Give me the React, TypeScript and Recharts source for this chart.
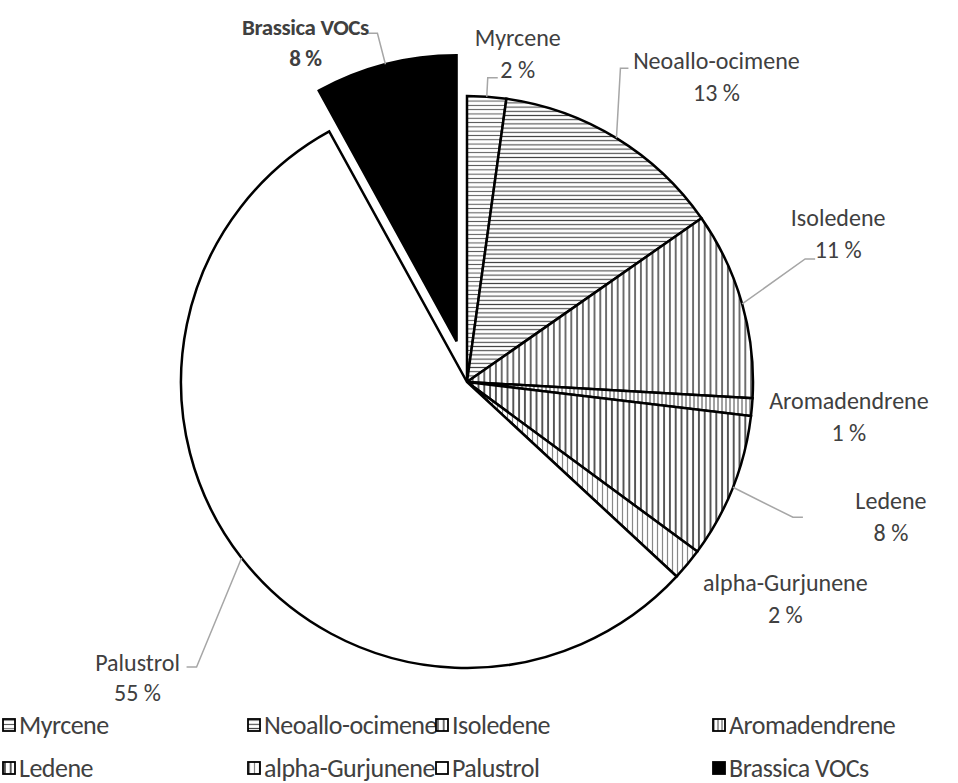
import React from "react"
import { PieChart, Pie, Cell, Sector, Legend } from "recharts"

const compounds = [
  "Myrcene",
  "Neoallo-ocimene",
  "Isoledene",
  "Aromadendrene",
  "Ledene",
  "alpha-Gurjunene",
  "Palustrol",
  "Brassica VOCs",
]
const shares = [2.2, 13.1, 10.6, 1.0, 8.2, 1.8, 55.1, 8.0]
const explodedName = "Brassica VOCs"

const data = compounds.map((name, i) => ({ name, value: shares[i] }))

const fills = [
  "url(#pMyrcene)",
  "url(#pNeo)",
  "url(#pIso)",
  "url(#pArom)",
  "url(#pLedene)",
  "url(#pGurj)",
  "#ffffff",
  "#000000",
]

// label placement, relative to the point on the arc at the slice's mid angle
const labelLayout: { dx: number; dy: number; gap?: number; leader?: number[][] }[] = [
  { dx: 31, dy: -59, leader: [[1, -19], [11, -19]] },
  { dx: 100, dy: -78, leader: [[4, -70], [12, -70]] },
  { dx: 96, dy: -86, leader: [[63, -45], [73, -45]] },
  { dx: 97, dy: -7 },
  { dx: 158, dy: 13, leader: [[60, 30], [70, 30]] },
  { dx: 98, dy: 18 },
  { dx: -104, dy: 104, gap: 30, leader: [[-45, 109], [-55, 109]] },
  { dx: -80, dy: -37, gap: 31, leader: [[-8, -31], [-19, -31]] },
]

const RAD = Math.PI / 180
const EXPLODE = 42
const FONT = "Carlito, Calibri, Lato, sans-serif"
const TEXT = "#404040"

const renderSlice = (props: any) => {
  const name = props.name ?? props.payload?.name
  let { cx, cy } = props
  if (name === explodedName) {
    cx += EXPLODE * Math.cos(-props.midAngle * RAD)
    cy += EXPLODE * Math.sin(-props.midAngle * RAD)
  }
  return <Sector {...props} cx={cx} cy={cy} />
}

const renderLabel = (p: any) => {
  const { cx, cy, midAngle, outerRadius, percent, index, name } = p
  const lay = labelLayout[index]
  const r = outerRadius + (name === explodedName ? EXPLODE : 0)
  const ax = cx + r * Math.cos(-midAngle * RAD)
  const ay = cy + r * Math.sin(-midAngle * RAD)
  const bold = name === explodedName
  const textProps = {
    textAnchor: "middle" as const,
    dominantBaseline: "central" as const,
    fill: TEXT,
    fontSize: bold ? 23 : 24,
    fontFamily: FONT,
    fontWeight: bold ? 700 : 400,
    letterSpacing: bold ? -0.4 : 0,
  }
  return (
    <g>
      {lay.leader && (
        <polyline
          points={[[0, 0], ...lay.leader].map(([x, y]) => `${ax + x},${ay + y}`).join(" ")}
          fill="none"
          stroke="#a6a6a6"
          strokeWidth={1.5}
        />
      )}
      <text x={ax + lay.dx} y={ay + lay.dy} {...textProps}>
        {name}
      </text>
      <text x={ax + lay.dx} y={ay + lay.dy + (lay.gap ?? 32)} {...textProps}>
        {Math.round(percent * 100)} %
      </text>
    </g>
  )
}

const legendCols = [245, 188, 277, 246]

const LegendBox = () => (
  <div
    style={{
      display: "grid",
      gridTemplateColumns: legendCols.map((w) => `${w}px`).join(" "),
      gridAutoRows: "43px",
      paddingLeft: 2,
      fontFamily: FONT,
      fontSize: 26,
      letterSpacing: -0.5,
      lineHeight: 1,
      color: TEXT,
    }}
  >
    {compounds.map((name, i) => (
      <div key={name} style={{ display: "flex", alignItems: "center", whiteSpace: "nowrap" }}>
        <svg width={14} height={14} style={{ marginRight: 3, flex: "none" }}>
          <rect x={1} y={1} width={12} height={12} fill={fills[i]} stroke="#000" strokeWidth={1.8} />
        </svg>
        {name}
      </div>
    ))}
  </div>
)

const hLines = (id: string, gap: number, color: string, w: number) => (
  <pattern id={id} patternUnits="userSpaceOnUse" width={8} height={gap}>
    <rect width={8} height={gap} fill="#fff" />
    <line x1={0} y1={gap / 2} x2={8} y2={gap / 2} stroke={color} strokeWidth={w} />
  </pattern>
)

const vLines = (id: string, gap: number, color: string, w: number) => (
  <pattern id={id} patternUnits="userSpaceOnUse" width={gap} height={8}>
    <rect width={gap} height={8} fill="#fff" />
    <line x1={gap / 2} y1={0} x2={gap / 2} y2={8} stroke={color} strokeWidth={w} />
  </pattern>
)

export default function App() {
  return (
    <div style={{ position: "absolute", left: 0, top: 0, width: 958, height: 783, background: "#fff" }}>
      <svg width={0} height={0} style={{ position: "absolute" }}>
        <defs>
          {hLines("pMyrcene", 4.3, "#555", 1)}
          {hLines("pNeo", 4.2, "#444", 1.1)}
          {vLines("pIso", 5.8, "#333", 1.4)}
          {vLines("pArom", 4, "#444", 1)}
          {vLines("pLedene", 5.8, "#222", 1.5)}
          {vLines("pGurj", 5, "#888", 1.2)}
        </defs>
      </svg>
      <PieChart width={958} height={783} margin={{ top: 0, right: 0, bottom: 0, left: 0 }}>
        <Pie
          data={data}
          dataKey="value"
          nameKey="name"
          cx={467}
          cy={382}
          outerRadius={286}
          startAngle={90}
          endAngle={-270}
          stroke="#000"
          strokeWidth={2.5}
          shape={renderSlice}
          label={renderLabel}
          labelLine={false}
          isAnimationActive={false}
        >
          {compounds.map((c, i) => (
            <Cell key={c} fill={fills[i]} />
          ))}
        </Pie>
        <Legend
          content={() => <LegendBox />}
          wrapperStyle={{ position: "absolute", left: 0, top: 703, width: 958 }}
        />
      </PieChart>
    </div>
  )
}
